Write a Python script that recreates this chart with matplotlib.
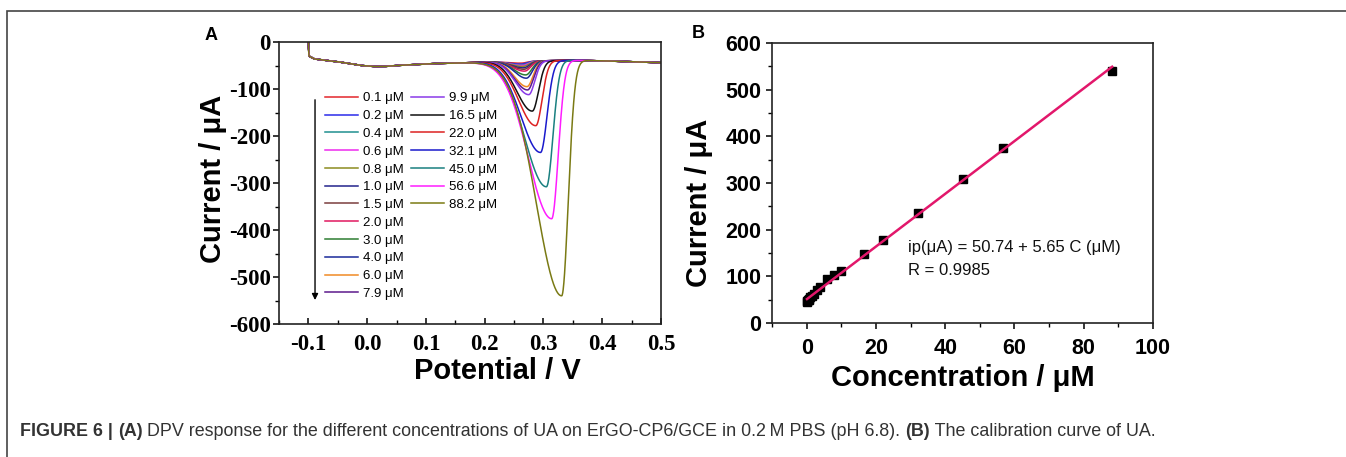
import numpy as np
import matplotlib
matplotlib.use('Agg')
import matplotlib.pyplot as plt

# UA concentrations (uM) and peak currents (uA)
conc = [0.1, 0.2, 0.4, 0.6, 0.8, 1.0, 1.5, 2.0, 3.0, 4.0, 6.0, 7.9, 9.9,
        16.5, 22.0, 32.1, 45.0, 56.6, 88.2]
peak_current = [45, 47, 49, 50, 52, 55, 58, 62, 70, 77, 95, 102, 112,
                147, 178, 235, 308, 376, 540]

# DPV peak positions / half widths (V)
peak_potential = [0.262, 0.262, 0.263, 0.264, 0.265, 0.266, 0.267, 0.268, 0.270,
                  0.271, 0.272, 0.273, 0.275, 0.281, 0.287, 0.295, 0.305, 0.314, 0.331]
width_left = [0.020, 0.020, 0.020, 0.020, 0.020, 0.020, 0.020, 0.020, 0.020,
              0.020, 0.021, 0.022, 0.023, 0.026, 0.029, 0.033, 0.037, 0.040, 0.043]
width_right = [0.010, 0.010, 0.010, 0.010, 0.010, 0.010, 0.010, 0.010, 0.010,
               0.010, 0.010, 0.010, 0.010, 0.0105, 0.0105, 0.011, 0.011, 0.011, 0.011]

# shared background current of the DPV scans
base_potential = [-0.100, -0.099, -0.090, -0.070, -0.050, -0.030, -0.010, 0.010, 0.030,
                  0.050, 0.080, 0.110, 0.140, 0.170, 0.200, 0.230, 0.260, 0.300,
                  0.350, 0.400, 0.450, 0.500]
base_current = [0, -30, -36, -39, -42, -46, -50, -52, -52, -50, -48, -46, -45, -44,
                -43, -42, -41, -40, -39, -40, -42, -44]

colors = ['#e3262b', '#2b2bea', '#1f8f8f', '#ee2aee', '#8c8c1f', '#23238c', '#7a3d3d',
          '#e0195f', '#2e7d32', '#1a2a9a', '#f08a24', '#5c1a8c', '#8a3ae8', '#111111',
          '#dd2222', '#1a1acc', '#1a8080', '#ff1cff', '#7a7a14']

fit_intercept = 50.74
fit_slope = 5.65

plt.rcParams['font.family'] = 'Liberation Sans'

fig = plt.figure(figsize=(13.46, 4.57), dpi=100)

# frame around the figure
fig.add_artist(plt.Rectangle((7 / 1346, -0.2), 2, 1.2 - 11 / 457, transform=fig.transFigure,
                             fill=False, ec='#444444', lw=1.2))

# ---------------- panel A ----------------
axA = fig.add_axes([279 / 1346, (457 - 324) / 457, 382 / 1346, 282 / 457])
v = np.linspace(-0.1, 0.5, 1500)
base = np.interp(v, base_potential, base_current)
for i in range(len(conc)):
    vp = peak_potential[i]
    depth = peak_current[i] - abs(np.interp(vp, base_potential, base_current))
    sig = np.where(v < vp, width_left[i], width_right[i])
    curve = base - depth * np.exp(-(v - vp) ** 2 / (2 * sig ** 2))
    axA.plot(v, curve, color=colors[i], lw=1.1, label='%.1f \u03bcM' % conc[i])

axA.set_xlim(-0.15, 0.5)
axA.set_ylim(-600, 0)
axA.set_xticks(np.arange(-0.1, 0.51, 0.1))
axA.set_xticks(np.arange(-0.15, 0.51, 0.05), minor=True)
axA.set_yticks(np.arange(-600, 1, 100))
axA.set_yticks(np.arange(-600, 1, 50), minor=True)
axA.set_xticklabels(['-0.1', '0.0', '0.1', '0.2', '0.3', '0.4', '0.5'])
axA.set_yticklabels(['-600', '-500', '-400', '-300', '-200', '-100', '0'])
axA.tick_params(axis='x', which='both', direction='in', pad=7)
axA.tick_params(axis='y', which='both', direction='out', pad=1.5)
axA.tick_params(which='major', length=4.5, width=1.1)
axA.tick_params(which='minor', length=3, width=1.0)
for lab in axA.get_xticklabels() + axA.get_yticklabels():
    lab.set_fontfamily('Liberation Serif')
    lab.set_fontweight('bold')
    lab.set_fontsize(16.5)
for s in axA.spines.values():
    s.set_linewidth(1.2)
    s.set_color('#222222')

axA.set_xlabel('Potential / V', fontsize=21, fontweight='bold')
axA.set_ylabel('Current / \u03bcA', fontsize=21, fontweight='bold')
axA.xaxis.set_label_coords(0.571, -0.118)
axA.yaxis.set_label_coords(-0.135, 0.516)

handles, labels = axA.get_legend_handles_labels()
leg1 = axA.legend(handles[:12], labels[:12], loc='upper left', bbox_to_anchor=(0.12, 0.822),
                  frameon=False, fontsize=9.5, handlelength=2.5, handletextpad=0.4,
                  labelspacing=0.42, borderpad=0, borderaxespad=0)
axA.add_artist(leg1)
axA.legend(handles[12:], labels[12:], loc='upper left', bbox_to_anchor=(0.346, 0.822),
           frameon=False, fontsize=9.5, handlelength=2.5, handletextpad=0.4,
           labelspacing=0.42, borderpad=0, borderaxespad=0)

axA.annotate('', xy=(-0.0887, -555), xytext=(-0.0887, -117),
             arrowprops=dict(arrowstyle='-|>', color='black', lw=1.0, mutation_scale=9))

fig.text(211 / 1346, 1 - 35 / 457, 'A', fontsize=13, fontweight='bold', ha='center', va='center')

# ---------------- panel B ----------------
axB = fig.add_axes([772 / 1346, (457 - 323) / 457, 381 / 1346, 280 / 457])
axB.plot(conc, peak_current, 's', color='black', ms=5.5)
xfit = np.array([conc[0], conc[-1]])
axB.plot(xfit, fit_intercept + fit_slope * xfit, color='#e2176b', lw=1.8)

axB.set_xlim(-10, 100)
axB.set_ylim(0, 600)
axB.set_xticks(np.arange(0, 101, 20))
axB.set_xticks(np.arange(-10, 101, 10), minor=True)
axB.set_yticks(np.arange(0, 601, 100))
axB.set_yticks(np.arange(0, 601, 50), minor=True)
axB.tick_params(which='both', direction='out', labelsize=15.5)
axB.tick_params(axis='x', pad=6)
axB.tick_params(axis='y', pad=3)
axB.tick_params(which='major', length=4.5, width=1.1)
axB.tick_params(which='minor', length=3, width=1.0)
for lab in axB.get_xticklabels() + axB.get_yticklabels():
    lab.set_fontweight('bold')
for s in axB.spines.values():
    s.set_linewidth(1.2)
    s.set_color('#222222')

axB.set_xlabel('Concentration / \u03bcM', fontsize=21, fontweight='bold')
axB.set_ylabel('Current / \u03bcA', fontsize=21, fontweight='bold')
axB.xaxis.set_label_coords(0.501, -0.145)
axB.yaxis.set_label_coords(-0.155, 0.43)

axB.text(0.358, 0.268, 'ip(\u03bcA) = 50.74 + 5.65 C (\u03bcM)', transform=axB.transAxes,
         fontsize=12, va='center', ha='left', color='#111111')
axB.text(0.358, 0.187, 'R = 0.9985', transform=axB.transAxes,
         fontsize=12, va='center', ha='left', color='#111111')

fig.text(698 / 1346, 1 - 34 / 457, 'B', fontsize=13, fontweight='bold', ha='center', va='center')

# ---------------- caption ----------------
caption = [('FIGURE 6 | ', 'bold'), ('(A)', 'bold'),
           (' DPV response for the different concentrations of UA on ErGO-CP6/GCE in 0.2\u2009M PBS (pH 6.8). ', 'normal'),
           ('(B)', 'bold'), (' The calibration curve of UA.', 'normal')]
fig.canvas.draw()
renderer = fig.canvas.get_renderer()
xpos = 20 / 1346
for txt, w in caption:
    t = fig.text(xpos, 1 - 431 / 457, txt, fontsize=12.9, fontweight=w, color='#333333',
                 va='center', ha='left', family=['Liberation Sans', 'DejaVu Sans'])
    bb = t.get_window_extent(renderer)
    xpos = bb.x1 / fig.bbox.width

fig.savefig('out.png', dpi=100)
